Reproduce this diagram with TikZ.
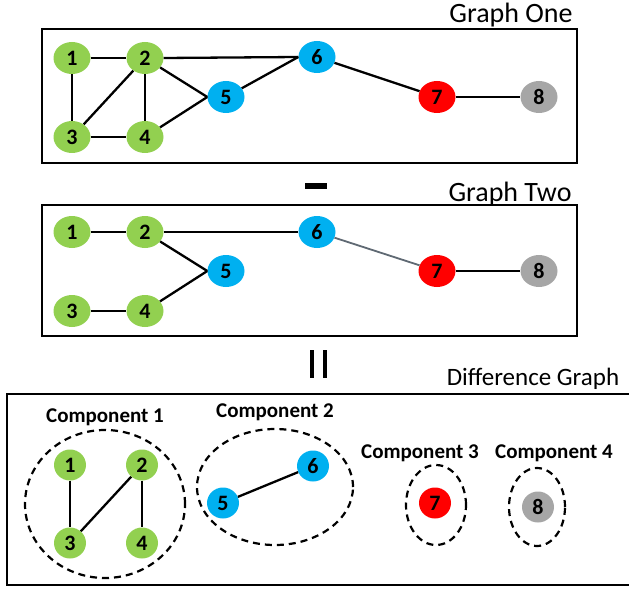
\documentclass[tikz,border=0pt]{standalone}
\usepackage{fontspec}
\setmainfont{Carlito}
\definecolor{vgreen}{RGB}{146, 208, 80}
\definecolor{vblue}{RGB}{0, 176, 240}
\definecolor{vred}{RGB}{255, 0, 0}
\definecolor{vgray}{RGB}{166, 166, 166}
\definecolor{linkgray}{RGB}{95, 105, 115}
\usetikzlibrary{shapes.geometric, positioning}

\begin{document}
\begin{tikzpicture}[x=1pt, y=-1pt,
  vert/.style={ellipse, minimum width=37pt, minimum height=32pt, inner sep=0pt, font=\bfseries\fontsize{22}{22}\selectfont},
  dvert/.style={vert, minimum width=32pt, minimum height=31pt},
  link/.style={line width=2.3pt},
  gbox/.style={line width=2.6pt},
  comp/.style={ellipse, draw, dash pattern=on 7pt off 5pt, line width=2.2pt, inner sep=0pt},
  gtitle/.style={font=\fontsize{28}{28}\selectfont},
  clabel/.style={font=\bfseries\fontsize{21}{21}\selectfont}]
  \useasboundingbox (0,0) rectangle (629,591);

  % Graph One
  \node[gtitle] (t1) at (511,15) {Graph One};
  \draw[gbox] (42,29) rectangle (577,163);
  \node[vert, fill=vgreen] (a1) at (72,58) {1};
  \node[vert, fill=vgreen] (a2) at (145,58) {2};
  \node[vert, fill=vgreen] (a3) at (72,137) {3};
  \node[vert, fill=vgreen] (a4) at (145,137) {4};
  \node[vert, fill=vblue] (a5) at (226,97) {5};
  \node[vert, fill=vblue] (a6) at (317,57) {6};
  \node[vert, fill=vred] (a7) at (437,97) {7};
  \node[vert, fill=vgray] (a8) at (539,97) {8};
  \draw[link] (a1) -- (a2);
  \draw[link] (a1) -- (a3);
  \draw[link] (a3) -- (a4);
  \draw[link] (a3) -- (a2);
  \draw[link] (a2) -- (a4);
  \draw[link] (a2.east) -- (a6.west);
  \draw[link] (a2) -- (a5.west);
  \draw[link] (a4) -- (a5.west);
  \draw[link] (a5) -- (a6.west);
  \draw[link] (a6) -- (a7);
  \draw[link] (a7) -- (a8);

  % minus
  \fill (305,183) rectangle (327,189);

  % Graph Two
  \node[gtitle] (t2) at (510,194) {Graph Two};
  \draw[gbox] (42,205) rectangle (577,336);
  \node[vert, fill=vgreen] (b1) at (72,232) {1};
  \node[vert, fill=vgreen] (b2) at (145,232) {2};
  \node[vert, fill=vgreen] (b3) at (72,311) {3};
  \node[vert, fill=vgreen] (b4) at (145,311) {4};
  \node[vert, fill=vblue] (b5) at (226,271) {5};
  \node[vert, fill=vblue] (b6) at (317,232) {6};
  \node[vert, fill=vred] (b7) at (437,271) {7};
  \node[vert, fill=vgray] (b8) at (539,271) {8};
  \draw[link] (b1) -- (b2);
  \draw[link] (b3) -- (b4);
  \draw[link] (b2) -- (b6);
  \draw[link] (b2) -- (b5.west);
  \draw[link] (b4) -- (b5.west);
  \draw[line width=1.8pt, linkgray] (b6) -- (b7);
  \draw[link] (b7) -- (b8);

  % equals
  \fill (310,350) rectangle (314,378);
  \fill (323,350) rectangle (327,378);

  % Difference Graph
  \node[gtitle, font=\fontsize{25}{25}\selectfont] (t3) at (533,379) {Difference Graph};
  \draw[gbox] (630,394) -- (7,394) -- (7,585) -- (630,585);
  \node[comp, minimum width=160pt, minimum height=148pt] (c1) at (105,504) {};
  \node[comp, minimum width=156pt, minimum height=116pt] (c2) at (275,487) {};
  \node[comp, minimum width=60pt, minimum height=80pt] (c3) at (436,505) {};
  \node[comp, minimum width=56pt, minimum height=78pt] (c4) at (537,507) {};
  \node[clabel] (l1) at (105,417) {Component 1};
  \node[clabel] (l2) at (275,412) {Component 2};
  \node[clabel] (l3) at (420,453) {Component 3};
  \node[clabel] (l4) at (554,453) {Component 4};
  \node[dvert, fill=vgreen] (d1) at (70,465) {1};
  \node[dvert, fill=vgreen] (d2) at (142,465) {2};
  \node[dvert, fill=vgreen] (d3) at (70,543) {3};
  \node[dvert, fill=vgreen] (d4) at (142,543) {4};
  \node[dvert, fill=vblue] (d5) at (223,503) {5};
  \node[dvert, fill=vblue] (d6) at (313,466) {6};
  \node[dvert, fill=vred] (d7) at (435,503) {7};
  \node[dvert, fill=vgray] (d8) at (538,507) {8};
  \draw[link] (d1) -- (d3);
  \draw[link] (d3) -- (d2);
  \draw[link] (d2) -- (d4);
  \draw[link] (d5) -- (d6);
\end{tikzpicture}
\end{document}
